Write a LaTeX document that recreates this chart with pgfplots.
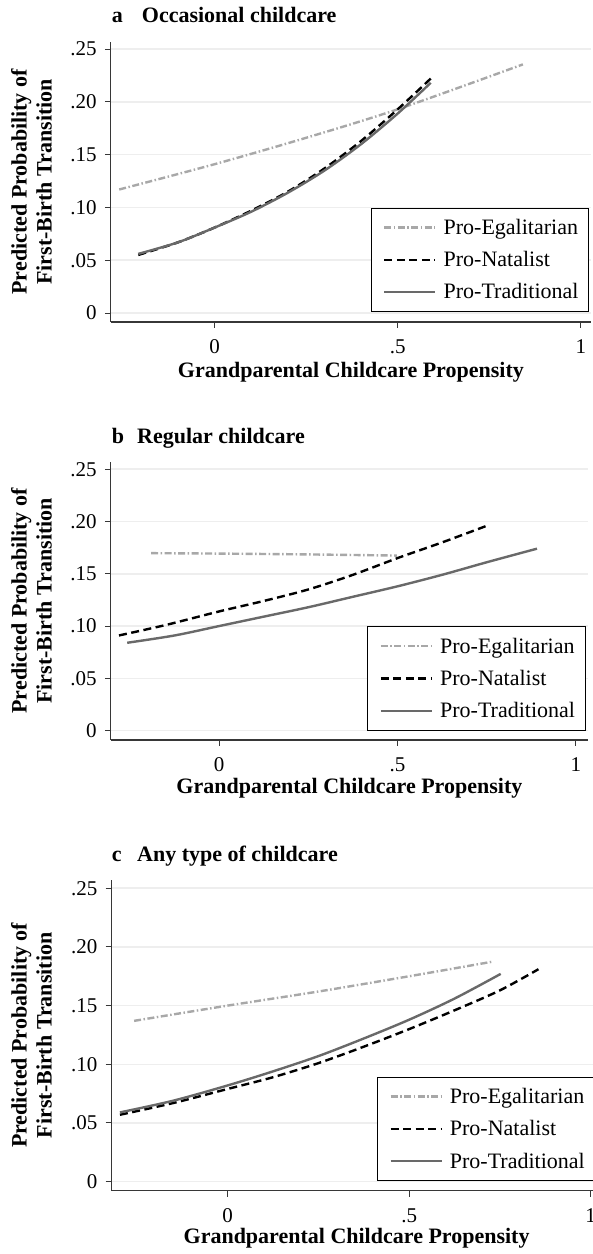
\documentclass[border=0pt]{standalone}
\usepackage{fontspec}
\setmainfont{Liberation Serif}
\usepackage{pgfplots}
\pgfplotsset{compat=1.18}

\definecolor{egal}{RGB}{168,168,168}
\definecolor{trad}{RGB}{105,105,105}
\definecolor{gridc}{RGB}{238,238,238}
\definecolor{axc}{RGB}{55,55,55}

\pgfplotsset{
  panel/.style={
    scale only axis,
    axis x line*=bottom, axis y line*=left,
    axis line style={draw=axc, line width=1.2pt, -},
    ytick={0,0.05,0.10,0.15,0.20,0.25},
    yticklabels={0,.05,.10,.15,.20,.25},
    xtick={0,0.5,1}, xticklabels={0,.5,1},
    tick align=outside, major tick length=6pt,
    tick style={draw=axc, line width=1pt},
    ymajorgrids, grid style={draw=gridc, line width=1.5pt},
    ticklabel style={font=\fontsize{21}{24}\selectfont},
    yticklabel style={anchor=east, inner sep=0pt, xshift=-8pt},
    xticklabel style={anchor=base, inner sep=0pt, yshift=-26pt},
    every axis y label/.style={at={(rel axis cs:0,0.5)}, rotate=90, anchor=center,
      align=center, font=\bfseries\fontsize{22}{25}\selectfont},
    every axis x label/.style={at={(rel axis cs:0.5,0)}, anchor=base,
      font=\bfseries\fontsize{22}{25}\selectfont},
    ylabel={Predicted Probability of\\First-Birth Transition},
    xlabel={Grandparental Childcare Propensity},
    legend cell align=left,
    legend image code/.code={
      \draw[#1, line width=2.4pt] (4pt,0pt) -- (55pt,0pt);
      \path (0pt,0pt) (60pt,0pt);},
    legend style={draw=black, line width=1pt, fill=white,
      font=\fontsize{22}{24}\selectfont, row sep=11.5pt, inner xsep=8pt, inner ysep=9pt},
  },
  egal/.style={color=egal, line width=2.4pt, dash pattern=on 7pt off 2.5pt on 1.5pt off 2.5pt, smooth},
  nat/.style={color=black, line width=2.4pt, dash pattern=on 8pt off 4.5pt, smooth},
  trad/.style={color=trad, line width=2.4pt, smooth},
}

\begin{document}
\begin{tikzpicture}
\useasboundingbox (0,0) rectangle (593pt,1254pt);

% a  Occasional childcare
\begin{axis}[panel, at={(110.8pt,932pt)}, anchor=south west,
  width=480.2pt, height=280.3pt,
  xmin=-0.284, xmax=1.028, ymin=-0.0085, ymax=0.257,
  ylabel style={yshift=79.3pt},
  xlabel style={yshift=-56pt},
  legend style={at={(0.9958,0.0357)}, anchor=south east}]
\addplot[egal] coordinates {(-0.261,0.117) (0,0.141) (0.25,0.166) (0.5,0.193) (0.842,0.2355)};
\addplot[nat] coordinates {(-0.209,0.055) (-0.1,0.067) (0,0.081) (0.1,0.097) (0.2,0.115) (0.3,0.137) (0.4,0.163) (0.5,0.193) (0.593,0.223)};
\addplot[trad] coordinates {(-0.209,0.056) (-0.1,0.067) (0,0.081) (0.1,0.096) (0.2,0.114) (0.3,0.135) (0.4,0.160) (0.5,0.189) (0.59,0.218)};
\legend{Pro-Egalitarian,Pro-Natalist,Pro-Traditional}
\end{axis}

% b  Regular childcare
\begin{axis}[panel, at={(110.8pt,514pt)}, anchor=south west,
  width=477.2pt, height=278.3pt,
  xmin=-0.304, xmax=1.034, ymin=-0.009, ymax=0.2572,
  ylabel style={yshift=79.3pt},
  xlabel style={yshift=-53.3pt},
  legend style={at={(0.9948,0.0334)}, anchor=south east}]
\addplot[egal] coordinates {(-0.191,0.1697) (0,0.1693) (0.25,0.1685) (0.498,0.1674)};
\addplot[nat] coordinates {(-0.281,0.091) (-0.15,0.101) (0,0.114) (0.125,0.124) (0.25,0.135) (0.375,0.149) (0.5,0.165) (0.625,0.180) (0.751,0.196)};
\addplot[trad] coordinates {(-0.258,0.084) (-0.125,0.091) (0,0.100) (0.125,0.109) (0.25,0.118) (0.375,0.128) (0.5,0.138) (0.625,0.149) (0.75,0.161) (0.891,0.174)};
\legend{Pro-Egalitarian,Pro-Natalist,Pro-Traditional}
\end{axis}

% c  Any type of childcare
\begin{axis}[panel, at={(111.6pt,63.3pt)}, anchor=south west,
  width=490pt, height=310.7pt,
  xmin=-0.32, xmax=1.03, ymin=-0.0077, ymax=0.257,
  ylabel style={yshift=80.1pt},
  xlabel style={yshift=-52.6pt},
  legend style={at={(0.5416,0.031)}, anchor=south west}]
\addplot[egal] coordinates {(-0.258,0.137) (0,0.150) (0.25,0.162) (0.5,0.175) (0.731,0.1875)};
\addplot[nat] coordinates {(-0.297,0.057) (-0.15,0.067) (0,0.079) (0.125,0.089) (0.25,0.101) (0.375,0.115) (0.5,0.130) (0.625,0.146) (0.75,0.163) (0.856,0.181)};
\addplot[trad] coordinates {(-0.297,0.059) (-0.15,0.069) (0,0.082) (0.125,0.094) (0.25,0.107) (0.375,0.122) (0.5,0.138) (0.625,0.156) (0.752,0.177)};
\legend{Pro-Egalitarian,Pro-Natalist,Pro-Traditional}
\end{axis}

\begin{scope}[every node/.style={font=\bfseries\fontsize{22}{25}\selectfont, inner sep=0pt, anchor=base west}]
\node at (111.6pt,1231pt) {a};
\node at (141.7pt,1231pt) {Occasional childcare};
\node at (111.6pt,810.7pt) {b};
\node at (137pt,810.7pt) {Regular childcare};
\node at (111.6pt,392.3pt) {c};
\node at (137pt,392.3pt) {Any type of childcare};
\end{scope}
\end{tikzpicture}
\end{document}
